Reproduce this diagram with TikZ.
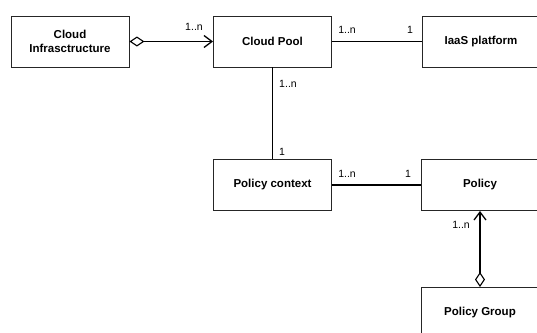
\documentclass[tikz,border=0pt]{standalone}
\usepackage{fontspec}
\setmainfont{Liberation Sans}
\usetikzlibrary{arrows.meta}
\tikzset{
  agg/.tip={Diamond[open,length=15pt,width=10pt,line width=1.1pt]},
  nav/.tip={Straight Barb[length=8pt,width=12pt,line width=1.3pt]}
}
\begin{document}
\begin{tikzpicture}[x=1pt,y=-1pt,
  umlbox/.style={draw=black!85,line width=0.9pt,minimum width=118pt,minimum height=51pt,inner sep=0pt,align=center,font=\fontsize{11.5}{13.5}\selectfont\bfseries},
  mult/.style={inner sep=0pt,font=\fontsize{10.5}{12}\selectfont},
  conn/.style={line width=1.3pt,black}]
\clip (0,0) rectangle (537,332);
\fill[white] (0,0) rectangle (537,332);
\node[umlbox] (ci) at (70,41.5) {Cloud\\Infrasctructure};
\node[umlbox] (cp) at (272.5,41.5) {Cloud Pool};
\node[umlbox] (iaas) at (481,41.5) {IaaS platform};
\node[umlbox] (pc) at (272.5,185) {Policy context};
\node[umlbox] (pol) at (480,185) {Policy};
\node[umlbox] (pg) at (480,313) {Policy Group};
\draw[conn,agg-nav] (ci) -- (cp);
\draw[conn] (cp) -- (iaas);
\draw[conn] (cp) -- (pc);
\draw[conn] (pc) -- (pol);
\draw[conn,agg-nav] (pg) -- (pol);
\node[mult] (m1) at (194,27) {1..n};
\node[mult] (m2) at (347,30) {1..n};
\node[mult] (m3) at (410,30) {1};
\node[mult] (m4) at (288,84) {1..n};
\node[mult] (m5) at (282,152) {1};
\node[mult] (m6) at (347,173.5) {1..n};
\node[mult] (m7) at (408,173.5) {1};
\node[mult] (m8) at (461,225) {1..n};
\end{tikzpicture}
\end{document}
